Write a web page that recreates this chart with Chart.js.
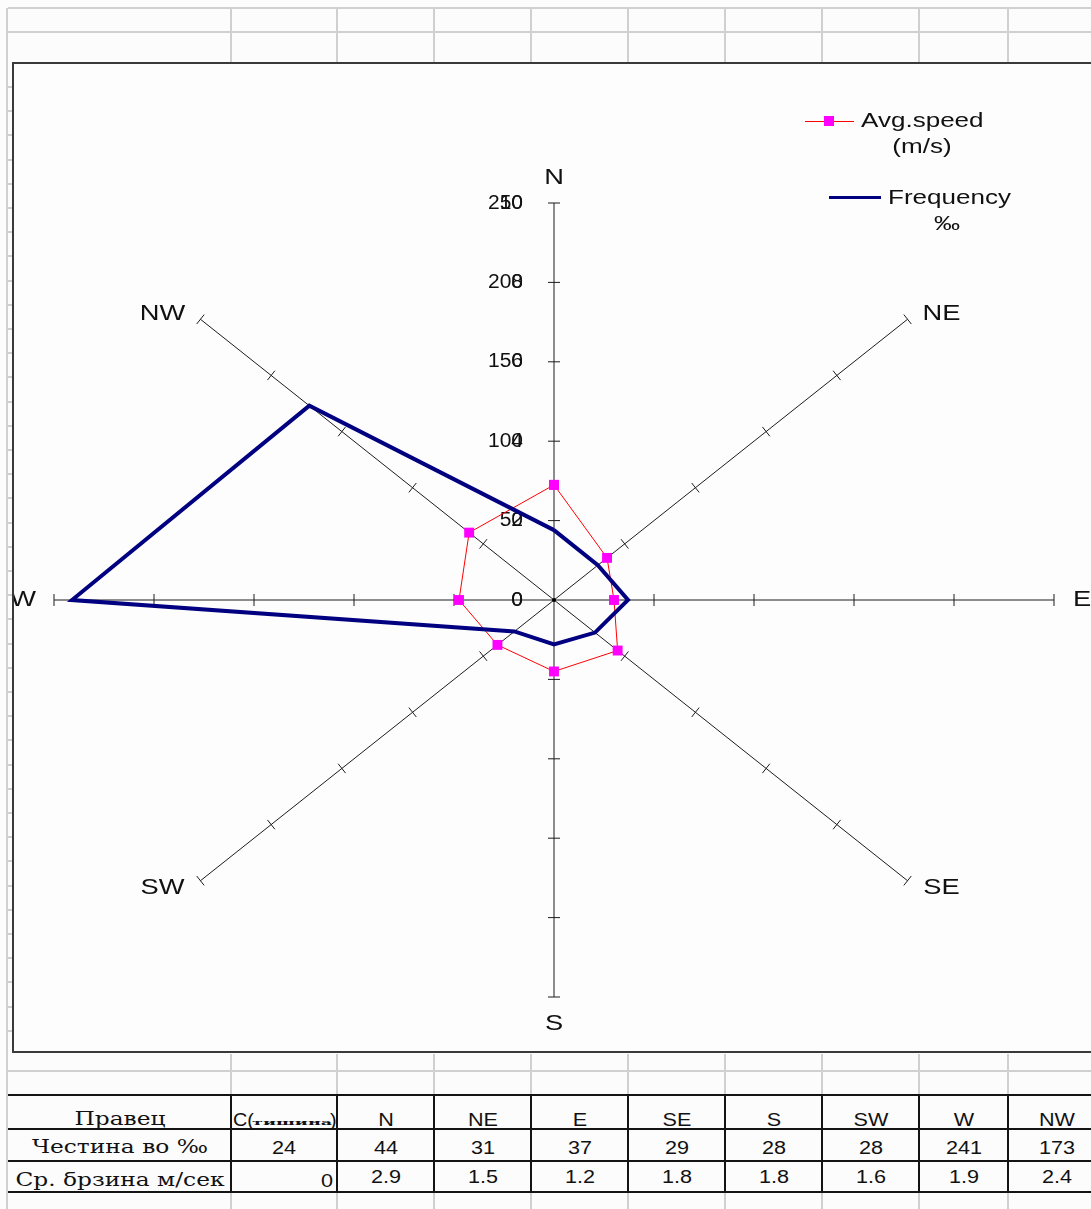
<!DOCTYPE html>
<html lang="mk">
<head>
<meta charset="utf-8">
<title>Ружа на ветрови</title>
<script src="https://cdn.jsdelivr.net/npm/chart.js@4.4.1/dist/chart.umd.min.js"></script>
<style>
  html, body { margin:0; padding:0; width:1091px; height:1209px; overflow:hidden; background:#fcfcfc; }
  .g { position:absolute; background:#d0d0d0; }
  .b { position:absolute; background:#141414; }
  #frame { position:absolute; left:12px; top:62px; width:1100px; height:987px; border:2px solid #3a3a3a; background:#fdfdfd; }
  #plot { position:absolute; left:14px; top:64px; width:1077px; height:987px; }
  .t { position:absolute; white-space:nowrap; color:#111; }
</style>
</head>
<body>
<div id="sheet"></div>
<div id="frame"></div>
<div id="plot"><canvas id="rose" width="1077" height="987"></canvas></div>
<div id="table"></div>
<script>
// ---- data ----
const directions = ['N', 'NE', 'E', 'SE', 'S', 'SW', 'W', 'NW'];
const bearings   = [0, 45, 90, 135, 180, 225, 270, 315];
const frequency  = [44, 31, 37, 29, 28, 28, 241, 173];      // ‰
const avgSpeed   = [2.9, 1.5, 1.2, 1.8, 1.8, 1.6, 1.9, 2.4]; // m/s
const calmLabel  = 'C(';
const calmWord   = 'тишина';
const calmFrequency = 24;
const calmSpeed  = 0;
const freqTicks  = [0, 50, 100, 150, 200, 250];
const speedTicks = [0, 2, 4, 6, 8, 10];
const rowLabels  = ['Правец', 'Честина во ‰', 'Ср. брзина м/сек'];
const legendSpeed = ['Avg.speed', '(m/s)'];
const legendFreq  = ['Frequency', '‰'];

// ---- spreadsheet background ----
const sheet = document.getElementById('sheet');
const colEdges = [231, 337, 434, 531, 628, 725, 822, 919, 1008, 1106];
function rect(cls, x, y, w, h, parent) {
  const d = document.createElement('div');
  d.className = cls;
  d.style.left = x + 'px'; d.style.top = y + 'px';
  d.style.width = w + 'px'; d.style.height = h + 'px';
  (parent || sheet).appendChild(d);
}
rect('g', 8, 7, 1083, 2);
rect('g', 8, 31, 1083, 2);
colEdges.forEach(c => rect('g', c - 1, 8, 2, 54));
rect('g', 6, 8, 2, 1201);
for (let y = 87; y < 1050; y += 24.2) rect('g', 8, Math.round(y) - 1, 4, 2);
rect('g', 8, 1070, 1083, 2);
colEdges.forEach(c => rect('g', c - 1, 1054, 2, 41));
colEdges.forEach(c => rect('g', c - 1, 1193, 2, 16));

// ---- data table under the chart ----
const table = document.getElementById('table');
const rowLines = [1095, 1129, 1161, 1192];
rowLines.forEach(y => rect('b', 8, y - 1, 1083, 2, table));
colEdges.forEach(c => rect('b', c - 1, 1095, 2, 98, table));

function addText(txt, x, baseline, o) {
  const opt = Object.assign({ family: "'Liberation Sans', Arial, sans-serif", size: 18, align: 'center', sx: 1.2, weight: 'normal' }, o || {});
  const d = document.createElement('div');
  d.className = 't';
  d.textContent = txt;
  d.style.font = `${opt.weight} ${opt.size}px ${opt.family}`;
  d.style.lineHeight = opt.size + 'px';
  d.style.top = (baseline - opt.size * 0.846) + 'px';
  d.style.left = x + 'px';
  if (opt.align === 'center') { d.style.transformOrigin = 'center'; d.style.transform = `translateX(-50%) scaleX(${opt.sx})`; }
  else if (opt.align === 'right') { d.style.transformOrigin = 'right'; d.style.transform = `translateX(-100%) scaleX(${opt.sx})`; }
  else { d.style.transformOrigin = 'left'; d.style.transform = `scaleX(${opt.sx})`; }
  table.appendChild(d);
  return d;
}
const serif = { family: "'DejaVu Serif', 'Liberation Serif', serif", size: 18.5, sx: 1.26 };
const baselines = [1126, 1154, 1183];
rowLabels.forEach((s, i) => addText(s, 120, baselines[i] + (i === 2 ? 4 : 0), serif));

// calm column
addText(calmLabel, 233, baselines[0], { align: 'left', sx: 1.1 });
addText(calmWord, 252, baselines[0] - 1, { family: "'DejaVu Serif', serif", size: 8, weight: 'bold', align: 'left', sx: 2.2 });
addText(')', 330, baselines[0], { align: 'left', sx: 1.1 });
addText(String(calmFrequency), 284, baselines[1]);
addText(String(calmSpeed), 333, baselines[2] + 4, { align: 'right' });

directions.forEach((d, i) => {
  const cx = (colEdges[i + 1] + colEdges[i + 2]) / 2;
  addText(d, cx, baselines[0]);
  addText(String(frequency[i]), cx, baselines[1]);
  addText(avgSpeed[i].toFixed(1), cx, baselines[2]);
});

// ---- wind rose ----
const DEG = Math.PI / 180;
const rMax = freqTicks[freqTicks.length - 1];
const speedToFreq = rMax / speedTicks[speedTicks.length - 1];
function polar(values, factor) {
  const pts = values.map((v, i) => ({
    x: v * factor * Math.sin(bearings[i] * DEG),
    y: v * factor * Math.cos(bearings[i] * DEG)
  }));
  pts.push(pts[0]);
  return pts;
}

const FONT = "'Liberation Sans', Arial, sans-serif";
const SX = 1.24;
function wideText(ctx, txt, x, y, align, sx) {
  ctx.save();
  ctx.translate(x, y);
  ctx.scale(sx, 1);
  ctx.textAlign = align;
  ctx.fillText(txt, 0, 0);
  ctx.restore();
}

// offsets of direction names from the spoke ends
const labelOffsets = {
  N: [0, -25, 'center'], NE: [34, -5, 'center'], E: [19, 0, 'left'], SE: [34, 7, 'center'],
  S: [0, 27, 'center'], SW: [-38, 7, 'center'], W: [-18, 0, 'right'], NW: [-38, -5, 'center']
};

const roseAxes = {
  id: 'roseAxes',
  beforeDatasetsDraw(chart) {
    const { ctx, scales: { x, y } } = chart;
    const cx = x.getPixelForValue(0), cy = y.getPixelForValue(0);
    ctx.save();
    ctx.strokeStyle = '#1c1c1c';
    ctx.lineWidth = 1;
    bearings.forEach((deg, i) => {
      const s = Math.sin(deg * DEG), c = Math.cos(deg * DEG);
      const ex = x.getPixelForValue(rMax * s), ey = y.getPixelForValue(rMax * c);
      ctx.beginPath(); ctx.moveTo(cx, cy); ctx.lineTo(ex, ey); ctx.stroke();
      const len = Math.hypot(ex - cx, ey - cy);
      const px = -(ey - cy) / len, py = (ex - cx) / len;
      freqTicks.forEach(t => {
        if (t === 0) return;
        const tx = x.getPixelForValue(t * s), ty = y.getPixelForValue(t * c);
        ctx.beginPath();
        ctx.moveTo(tx - px * 6, ty - py * 6);
        ctx.lineTo(tx + px * 6, ty + py * 6);
        ctx.stroke();
      });
      // direction name
      const [ox, oy, al] = labelOffsets[directions[i]];
      ctx.fillStyle = '#111';
      ctx.font = `22px ${FONT}`;
      ctx.textBaseline = 'middle';
      wideText(ctx, directions[i], ex + ox, ey + oy, al, SX);
    });
    // centre dot
    ctx.fillStyle = '#000';
    ctx.beginPath(); ctx.arc(cx, cy, 2, 0, Math.PI * 2); ctx.fill();
    // overlapping primary / secondary tick labels on the north spoke
    ctx.font = `20px ${FONT}`;
    ctx.textBaseline = 'middle';
    ctx.fillStyle = '#111';
    freqTicks.forEach((t, i) => {
      const ty = y.getPixelForValue(t);
      wideText(ctx, String(t), cx - 31, ty, 'right', 1.05);
      wideText(ctx, String(speedTicks[i]), cx - 31, ty, 'right', 1.05);
    });
    ctx.restore();
  },
  afterDraw(chart) {
    const ctx = chart.ctx;
    const ox = 14, oy = 64;  // canvas offset on the page
    ctx.save();
    // Avg.speed entry
    ctx.strokeStyle = '#ff0000'; ctx.lineWidth = 1;
    ctx.beginPath(); ctx.moveTo(805 - ox, 121.5 - oy); ctx.lineTo(854 - ox, 121.5 - oy); ctx.stroke();
    ctx.fillStyle = '#ff00ff';
    ctx.fillRect(824 - ox, 116 - oy, 10, 10);
    // Frequency entry
    ctx.strokeStyle = '#000080'; ctx.lineWidth = 3;
    ctx.beginPath(); ctx.moveTo(829 - ox, 197.5 - oy); ctx.lineTo(881 - ox, 197.5 - oy); ctx.stroke();
    ctx.fillStyle = '#111';
    ctx.font = `21px ${FONT}`;
    ctx.textBaseline = 'alphabetic';
    wideText(ctx, legendSpeed[0], 861 - ox, 127 - oy, 'left', SX);
    wideText(ctx, legendSpeed[1], 922 - ox, 153 - oy, 'center', SX);
    wideText(ctx, legendFreq[0], 888 - ox, 204 - oy, 'left', SX);
    wideText(ctx, legendFreq[1], 947 - ox, 230 - oy, 'center', SX);
    ctx.restore();
  }
};

new Chart(document.getElementById('rose'), {
  type: 'scatter',
  data: {
    datasets: [
      {
        label: legendFreq.join(' '),
        data: polar(frequency, 1),
        showLine: true,
        borderColor: '#000080',
        borderWidth: 4,
        borderJoinStyle: 'miter',
        pointRadius: 0,
        order: 0,
        clip: false
      },
      {
        label: legendSpeed.join(' '),
        data: polar(avgSpeed, speedToFreq),
        showLine: true,
        borderColor: '#ff0000',
        borderWidth: 1,
        pointStyle: 'rect',
        pointRadius: 7,
        pointBackgroundColor: '#ff00ff',
        pointBorderColor: '#ff00ff',
        pointBorderWidth: 0,
        order: 1,
        clip: false
      }
    ]
  },
  options: {
    responsive: false,
    animation: false,
    events: [],
    layout: { padding: { left: 40, right: 37, top: 139, bottom: 54 } },
    scales: {
      x: { type: 'linear', min: -rMax, max: rMax, display: false },
      y: { type: 'linear', min: -rMax, max: rMax, display: false }
    },
    plugins: { legend: { display: false }, tooltip: { enabled: false } }
  },
  plugins: [roseAxes]
});
</script>
</body>
</html>
